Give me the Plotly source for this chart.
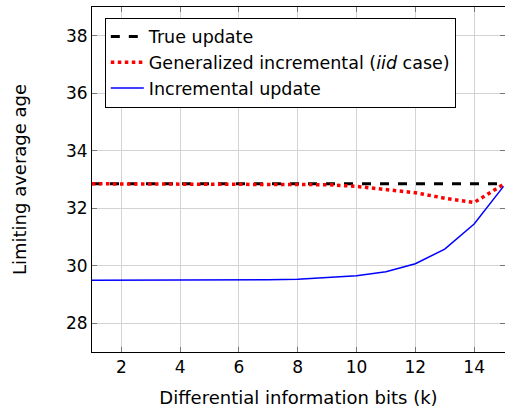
import plotly.graph_objects as go

k = list(range(1, 16))
true_update = [32.85] * 15
gen_incremental = [32.85, 32.85, 32.85, 32.85, 32.85, 32.85, 32.85, 32.84, 32.82, 32.76, 32.66, 32.54, 32.35, 32.2, 32.83]
incremental = [29.5, 29.5, 29.5, 29.5, 29.5, 29.5, 29.51, 29.53, 29.58, 29.65, 29.79, 30.07, 30.58, 31.45, 32.76]

x_ticks = [2, 4, 6, 8, 10, 12, 14]
y_ticks = [28, 30, 32, 34, 36, 38]

font = "DejaVu Sans"

fig = go.Figure()
fig.add_trace(go.Scatter(x=k, y=true_update, mode="lines", name="True update",
                         line=dict(color="black", width=3, dash="dash")))
fig.add_trace(go.Scatter(x=k, y=gen_incremental, mode="lines",
                         name="Generalized incremental (<i>iid</i> case)",
                         line=dict(color="red", width=3.5, dash="dot")))
fig.add_trace(go.Scatter(x=k, y=incremental, mode="lines", name="Incremental update",
                         line=dict(color="blue", width=1.5)))

axis_common = dict(showline=True, linecolor="black", linewidth=1, mirror="ticks",
                   ticks="inside", ticklen=5, tickcolor="#777", showgrid=True,
                   gridcolor="#d3d3d3", gridwidth=1, zeroline=False,
                   tickfont=dict(family=font, size=17, color="black"))

fig.update_xaxes(range=[1, 15.05], tickvals=x_ticks,
                 title=dict(text="Differential information bits (k)",
                            font=dict(family=font, size=18, color="black"), standoff=14),
                 **axis_common)
fig.update_yaxes(range=[27, 39], tickvals=y_ticks,
                 title=dict(text="Limiting average age",
                            font=dict(family=font, size=18, color="black"), standoff=34),
                 **axis_common)

fig.update_layout(
    width=505, height=411,
    margin=dict(l=92, r=0, t=7, b=59),
    plot_bgcolor="white", paper_bgcolor="white",
    font=dict(family=font, size=17, color="black"),
    legend=dict(x=0.031, y=0.969, xanchor="left", yanchor="top",
                bgcolor="white", bordercolor="black", borderwidth=1,
                font=dict(family=font, size=17.5, color="black"),
                tracegroupgap=0, itemwidth=33),
    showlegend=True,
)

fig.write_html("out.html")
